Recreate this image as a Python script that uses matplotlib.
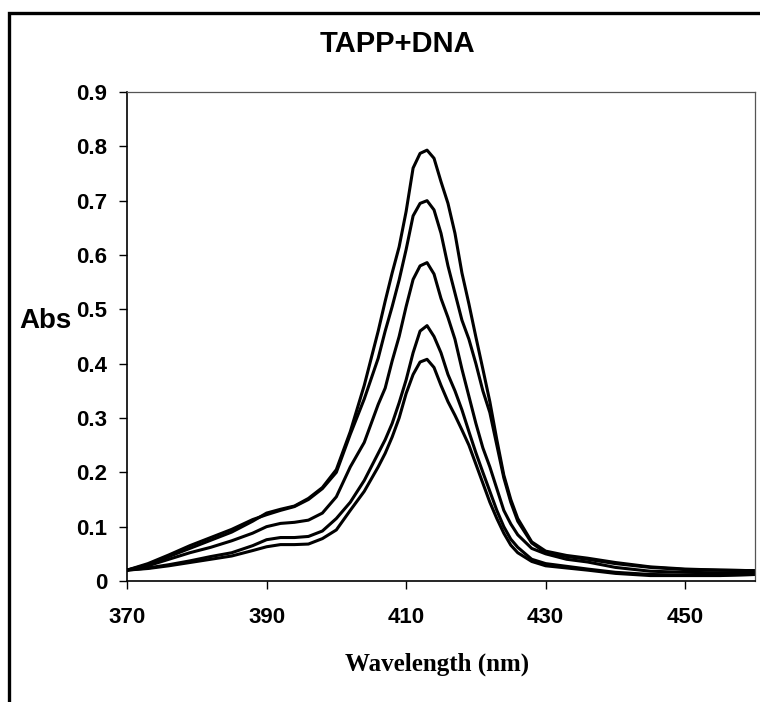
import matplotlib
matplotlib.use("Agg")
import matplotlib.pyplot as plt
from matplotlib.patches import Rectangle

# wavelength grid (nm)
wl = [370, 373, 376, 379, 382, 385, 388, 390, 392, 394, 396, 398, 400, 402, 404,
      406, 407, 408, 409, 410, 411, 412, 413, 414, 415, 416, 417, 418, 419, 420,
      421, 422, 423, 424, 425, 426, 428, 430, 433, 436, 440, 445, 450, 455, 460]

# absorbance, one list per DNA addition
abs1 = [0.020, 0.030, 0.045, 0.060, 0.075, 0.090, 0.110, 0.125, 0.132, 0.138, 0.152, 0.172, 0.205, 0.275, 0.360,
        0.460, 0.515, 0.567, 0.615, 0.680, 0.760, 0.787, 0.793, 0.778, 0.735, 0.695, 0.640, 0.567, 0.510, 0.449,
        0.390, 0.330, 0.260, 0.195, 0.150, 0.115, 0.072, 0.055, 0.047, 0.042, 0.034, 0.026, 0.022, 0.020, 0.019]
abs2 = [0.020, 0.032, 0.048, 0.065, 0.080, 0.095, 0.113, 0.122, 0.130, 0.137, 0.150, 0.170, 0.200, 0.270, 0.335,
        0.410, 0.460, 0.505, 0.554, 0.610, 0.672, 0.695, 0.700, 0.683, 0.640, 0.580, 0.530, 0.480, 0.445, 0.400,
        0.350, 0.310, 0.250, 0.190, 0.145, 0.110, 0.070, 0.052, 0.045, 0.040, 0.032, 0.025, 0.021, 0.020, 0.019]
abs3 = [0.020, 0.028, 0.040, 0.052, 0.062, 0.074, 0.088, 0.100, 0.106, 0.108, 0.112, 0.125, 0.155, 0.210, 0.255,
        0.325, 0.355, 0.405, 0.450, 0.505, 0.555, 0.580, 0.586, 0.565, 0.520, 0.485, 0.445, 0.390, 0.340, 0.290,
        0.245, 0.210, 0.170, 0.130, 0.105, 0.085, 0.060, 0.050, 0.040, 0.035, 0.025, 0.018, 0.016, 0.015, 0.015]
abs4 = [0.020, 0.024, 0.030, 0.037, 0.045, 0.052, 0.065, 0.076, 0.080, 0.080, 0.082, 0.092, 0.115, 0.145, 0.185,
        0.235, 0.260, 0.290, 0.328, 0.370, 0.420, 0.460, 0.470, 0.450, 0.420, 0.380, 0.350, 0.315, 0.275, 0.236,
        0.200, 0.165, 0.130, 0.100, 0.077, 0.062, 0.040, 0.032, 0.027, 0.022, 0.016, 0.012, 0.011, 0.011, 0.012]
abs5 = [0.020, 0.023, 0.028, 0.034, 0.040, 0.046, 0.056, 0.063, 0.067, 0.067, 0.068, 0.078, 0.094, 0.130, 0.165,
        0.210, 0.235, 0.265, 0.300, 0.345, 0.380, 0.403, 0.408, 0.393, 0.360, 0.330, 0.305, 0.278, 0.250, 0.215,
        0.180, 0.145, 0.115, 0.088, 0.066, 0.052, 0.036, 0.028, 0.024, 0.020, 0.014, 0.010, 0.010, 0.010, 0.012]

xticks = [370, 390, 410, 430, 450]
yticks = [0, 0.1, 0.2, 0.3, 0.4, 0.5, 0.6, 0.7, 0.8, 0.9]
ytick_labels = ["0", "0.1", "0.2", "0.3", "0.4", "0.5", "0.6", "0.7", "0.8", "0.9"]

sans = "Liberation Sans"
serif = "Liberation Serif"

fig = plt.figure(figsize=(7.6, 7.02), dpi=100)
ax = fig.add_axes([127/760, 1 - 581/702, 628/760, 489/702])

for y in [abs1, abs2, abs3, abs4, abs5]:
    ax.plot(wl, y, color="black", lw=2.2, solid_joinstyle="round")

ax.set_xlim(370, 460)
ax.set_ylim(0, 0.9)
ax.set_xticks(xticks)
ax.set_xticklabels([str(t) for t in xticks], fontfamily=sans, fontweight="bold", fontsize=16)
ax.set_yticks(yticks)
ax.set_yticklabels(ytick_labels, fontfamily=sans, fontweight="bold", fontsize=16)
ax.tick_params(direction="out", length=6, width=1, pad=8)
ax.tick_params(axis="x", pad=13)

for s in ["top", "right"]:
    ax.spines[s].set_color("#555555")
    ax.spines[s].set_linewidth(0.9)
ax.spines["left"].set_linewidth(1.2)
ax.spines["bottom"].set_linewidth(1.2)

# outer chart frame (right and bottom edges are cut off)
fig.patches.append(Rectangle((9/760, -0.2), 1.2, 1 - 13/702 + 0.2, transform=fig.transFigure,
                             fill=False, lw=2.4, ec="black"))

fig.text(397/760, 1 - 44/702, "TAPP+DNA", ha="center", va="center",
         fontfamily=sans, fontweight="bold", fontsize=21)
fig.text(45/760, 1 - 321/702, "Abs", ha="center", va="center",
         fontfamily=sans, fontweight="bold", fontsize=20)
fig.text(437/760, 1 - 664/702, "Wavelength (nm)", ha="center", va="center",
         fontfamily=serif, fontweight="bold", fontsize=18)

fig.savefig("out.png", dpi=100)
